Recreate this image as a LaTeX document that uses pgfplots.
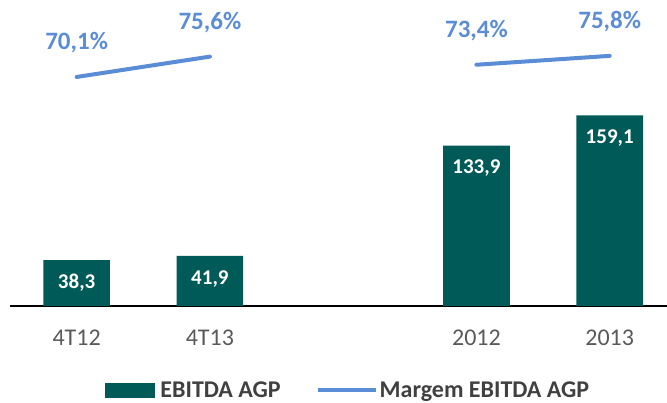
\documentclass[border=0pt]{standalone}
\usepackage{pgfplots}
\pgfplotsset{compat=1.18}
\usepackage{fontspec}
\setmainfont{Carlito}
\definecolor{barc}{HTML}{005A57}
\definecolor{linec}{HTML}{5B8DD6}
\definecolor{tickc}{HTML}{595959}
\definecolor{legc}{HTML}{404040}
\begin{document}
\begin{tikzpicture}
\begin{axis}[
 scale only axis, width=657pt, height=296pt,
 xmin=-0.5, xmax=4.43, ymin=0, ymax=247,
 axis y line=none, axis x line*=bottom,
 x axis line style={black, line width=1.2pt, -},
 xtick={0,1,3,4}, xticklabels={4T12,4T13,2012,2013},
 major tick length=0pt, ytick=\empty,
 xticklabel style={font=\fontsize{24}{24}\selectfont, text=tickc, anchor=center, yshift=-32pt},
 /pgf/number format/.cd, use comma, fixed, fixed zerofill, precision=1, assume math mode=true, /pgfplots/.cd,
 legend columns=2,
 legend style={draw=none, fill=none, at={(0.515,-0.284)}, anchor=center,
   font=\bfseries\fontsize{24}{24}\selectfont, text=legc,
   /tikz/every even column/.append style={column sep=33pt}},
 legend cell align=left,
 clip=false,
]
\coordinate (O) at (rel axis cs:0,0);
\addplot[ybar, bar width=0.5, fill=barc, draw=none,
  nodes near coords={\pgfmathprintnumber\pgfplotspointmeta},
  nodes near coords style={font=\bfseries\fontsize{21}{21}\selectfont, text=white, anchor=center, yshift=-23pt},
  legend image code/.code={\fill[barc] (0pt,-7.5pt) rectangle (50pt,7.5pt); \path (53pt,0pt);}]
  coordinates {(0,38.3) (1,41.9) (3,133.9) (4,159.1)};
\addlegendentry{EBITDA AGP}
\addlegendimage{line width=4pt, linec, legend image code/.code={\draw (0pt,0pt) -- (58pt,0pt);}}
\addlegendentry{Margem EBITDA AGP}
\end{axis}
\begin{axis}[
 scale only axis, width=657pt, height=296pt,
 xmin=-0.5, xmax=4.43, ymin=8.2, ymax=88.2,
 hide axis, clip=false,
 /pgf/number format/.cd, use comma, fixed, fixed zerofill, precision=1, assume math mode=true, /pgfplots/.cd,
]
\addplot[line width=4pt, linec, line cap=round,
  nodes near coords={\pgfmathprintnumber\pgfplotspointmeta\%},
  nodes near coords style={font=\bfseries\fontsize{25}{25}\selectfont, text=linec, anchor=center, yshift=34pt}]
  coordinates {(0,70.1) (1,75.6)};
\addplot[line width=4pt, linec, line cap=round,
  nodes near coords={\pgfmathprintnumber\pgfplotspointmeta\%},
  nodes near coords style={font=\bfseries\fontsize{25}{25}\selectfont, text=linec, anchor=center, yshift=34pt}]
  coordinates {(3,73.4) (4,75.8)};
\end{axis}
\pgfresetboundingbox
\path (O) ++(-10pt,-97pt) rectangle ++(667pt,403pt);
\end{tikzpicture}
\end{document}
